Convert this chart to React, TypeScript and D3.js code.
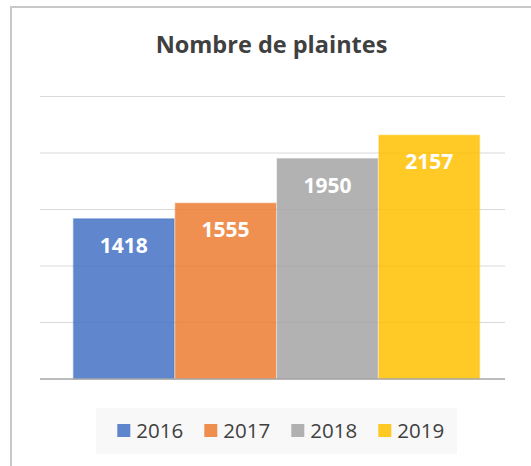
import React from "react";
import * as d3 from "d3";

const series = ["2016", "2017", "2018", "2019"];
const values = [1418, 1555, 1950, 2157];
const colors = ["#4472C4", "#ED7D31", "#A5A5A5", "#FFC000"];
const yTicks = [0, 500, 1000, 1500, 2000, 2500];
const title = "Nombre de plaintes";

const W = 531;
const H = 466;
const FONT = "'Open Sans', 'Noto Sans', sans-serif";

export default function App() {
  const y = d3.scaleLinear().domain([0, 2500]).range([379, 96.5]);
  const x = d3.scaleBand<string>().domain(series).range([73.5, 479.5]).paddingInner(0.012);
  const plotLeft = 40;
  const plotRight = 505;
  const legendX = d3.scaleBand<string>().domain(series).range([117.3, 117.3 + 87 * 4]);

  return (
    <svg width={W} height={H} style={{ position: "absolute", left: 0, top: 0 }} fontFamily={FONT}>
      <rect x={0} y={0} width={W} height={H} fill="#ffffff" />
      <rect x={11} y={7} width={W + 10} height={H + 10} fill="#ffffff" stroke="#c8c8c8" strokeWidth={2} />
      <text x={271.5} y={53} textAnchor="middle" fontSize={23.5} fontWeight="bold" fill="#404040">
        {title}
      </text>
      {yTicks.slice(1).map((t) => (
        <line key={t} x1={plotLeft} x2={plotRight} y1={y(t)} y2={y(t)} stroke="#d9d9d9" strokeWidth={1} />
      ))}
      {series.map((s, i) => (
        <g key={s}>
          <rect
            x={x(s)!}
            y={y(values[i])}
            width={x.bandwidth()}
            height={y(0) - y(values[i])}
            fill={colors[i]}
            fillOpacity={0.85}
            stroke={colors[i]}
            strokeOpacity={0.35}
            strokeWidth={1.5}
          />
          <text
            x={x(s)! + x.bandwidth() / 2}
            y={y(values[i]) + 34}
            textAnchor="middle"
            fontSize={21}
            fontWeight="bold"
            fill="#ffffff"
          >
            {values[i]}
          </text>
        </g>
      ))}
      <line x1={plotLeft} x2={plotRight} y1={y(0)} y2={y(0)} stroke="#a6a6a6" strokeWidth={1.5} />
      <rect x={96} y={408} width={361} height={46} fill="#f8f8f8" />
      {series.map((s, i) => (
        <g key={s}>
          <rect x={legendX(s)!} y={424} width={13} height={13} fill={colors[i]} fillOpacity={0.85} />
          <text x={legendX(s)! + 19} y={438} fontSize={20.5} fill="#404040">
            {s}
          </text>
        </g>
      ))}
    </svg>
  );
}
